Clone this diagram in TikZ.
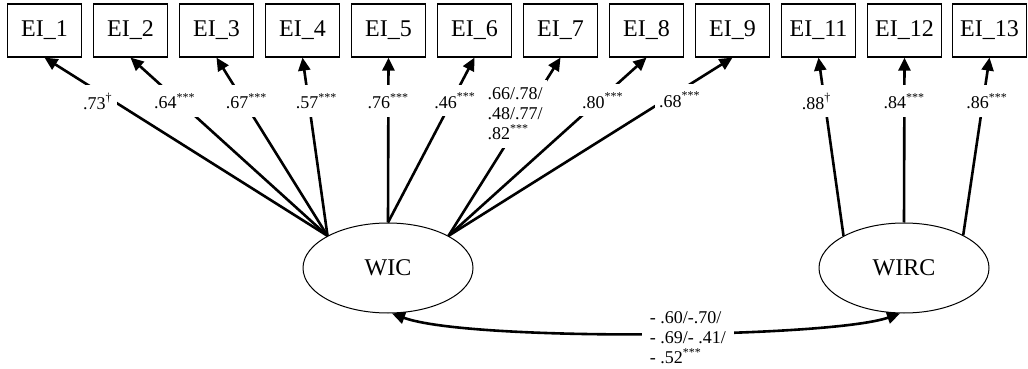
\documentclass[tikz,border=0pt]{standalone}
\usepackage{fontspec}
\setmainfont{Liberation Serif}
\usetikzlibrary{shapes.geometric,arrows.meta}

\begin{document}
\begin{tikzpicture}[x=0.5pt, y=-0.5pt,
    item/.style={draw, line width=0.6pt, minimum width=37pt, minimum height=26.5pt, inner sep=0pt, font=\fontsize{12}{14}\selectfont},
    factor/.style={draw, ellipse, line width=0.5pt, minimum width=85pt, minimum height=45pt, inner sep=0pt, font=\fontsize{12}{14}\selectfont},
    load/.style={line width=1.3pt, -{Triangle[length=6.5pt,width=6pt]}},
    cov/.style={line width=1.3pt, {Triangle[length=6.5pt,width=6pt]}-{Triangle[length=6.5pt,width=6pt]}},
    coef/.style={fill=white, inner xsep=2pt, inner ysep=4pt, font=\fontsize{9}{10}\selectfont}]
              \useasboundingbox (0,0) rectangle (1028,369);
              % Indicators
              \node[item] (EI1) at (44.5,30.5) {EI\_1};
              \node[item] (EI2) at (130.5,30.5) {EI\_2};
              \node[item] (EI3) at (216.5,30.5) {EI\_3};
              \node[item] (EI4) at (302.5,30.5) {EI\_4};
              \node[item] (EI5) at (388.5,30.5) {EI\_5};
              \node[item] (EI6) at (474.5,30.5) {EI\_6};
              \node[item] (EI7) at (560.5,30.5) {EI\_7};
              \node[item] (EI8) at (646.5,30.5) {EI\_8};
              \node[item] (EI9) at (732.5,30.5) {EI\_9};
              \node[item] (EI11) at (818.5,30.5) {EI\_11};
              \node[item] (EI12) at (904.5,30.5) {EI\_12};
              \node[item] (EI13) at (989.5,30.5) {EI\_13};
              % Latent factors
              \node[factor] (WIC) at (388,268) {WIC};
              \node[factor] (WIRC) at (904,268) {WIRC};
              % Loadings of WIC
              \draw[load] (WIC.152) -- node[coef, pos=0.755, xshift=-8pt] (c1) {.73\textsuperscript{\textdagger}} (EI1.south);
              \draw[load] (WIC.152) -- node[coef, pos=0.755, xshift=-2pt] (c2) {.64\textsuperscript{***}} (EI2.south);
              \draw[load] (WIC.152) -- node[coef, pos=0.755, xshift=1.5pt] (c3) {.67\textsuperscript{***}} (EI3.south);
              \draw[load] (WIC.152) -- node[coef, pos=0.755, xshift=4pt] (c4) {.57\textsuperscript{***}} (EI4.south);
              \draw[load] (WIC.north) -- node[coef, pos=0.735] (c5) {.76\textsuperscript{***}} (EI5.south);
              \draw[load] (WIC.north) -- node[coef, pos=0.74, xshift=1.5pt] (c6) {.46\textsuperscript{***}} (EI6.south);
              \draw[load] (WIC.28) -- node[coef, pos=0.684, xshift=-5pt, align=left] (c7) {.66/.78/\\.48/.77/\\.82\textsuperscript{***}} (EI7.south);
              \draw[load] (WIC.28) -- node[coef, pos=0.76, xshift=2pt] (c8) {.80\textsuperscript{***}} (EI8.south);
              \draw[load] (WIC.28) -- node[coef, pos=0.765, xshift=7pt] (c9) {.68\textsuperscript{***}} (EI9.south);
              % Loadings of WIRC
              \draw[load] (WIRC.152) -- node[coef, pos=0.755, xshift=-4pt] (c10) {.88\textsuperscript{\textdagger}} (EI11.south);
              \draw[load] (WIRC.north) -- node[coef, pos=0.735] (c11) {.84\textsuperscript{***}} (EI12.south);
              \draw[load] (WIRC.29) -- node[coef, pos=0.755, xshift=2pt] (c12) {.86\textsuperscript{***}} (EI13.south);
              % Covariance
              \draw[cov] (WIRC.-95) .. controls (830,338) and (470,342) .. node[coef, pos=0.44, yshift=-2.5pt, align=left, inner xsep=4pt, inner ysep=1pt] (r1) {- .60/-.70/\\- .69/- .41/\\- .52\textsuperscript{***}} (WIC.-85);

      \end{tikzpicture}
\end{document}
